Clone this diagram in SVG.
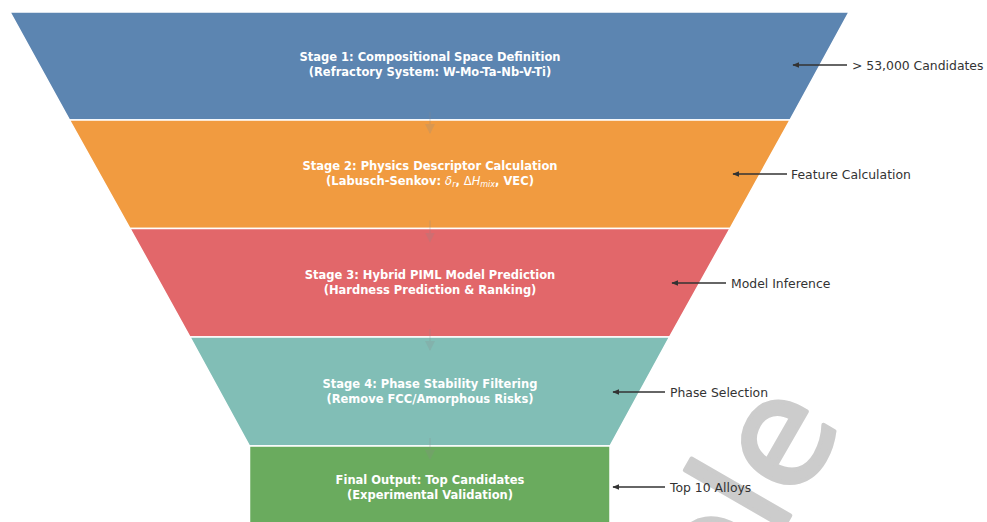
<svg xmlns="http://www.w3.org/2000/svg" width="987" height="522" viewBox="0 0 987 522">
  <defs>
    <marker id="head" viewBox="0 0 10 10" refX="9" refY="5" markerWidth="7" markerHeight="7" markerUnits="userSpaceOnUse" orient="auto-start-reverse">
      <path d="M0,1 L10,5 L0,9 z" fill="#333333"/>
    </marker>
    <marker id="faint" viewBox="0 0 10 10" refX="9" refY="5" markerWidth="10" markerHeight="10" markerUnits="userSpaceOnUse" orient="auto">
      <path d="M0,0 L10,5 L0,10 z" fill="#8a8a8a"/>
    </marker>
  </defs>
  <style>
    .stage { stroke: #ffffff; stroke-width: 1.5; }
    .title { font-family: "DejaVu Sans", "Liberation Sans", sans-serif; font-weight: bold; font-size: 11.5px; fill: #ffffff; text-anchor: middle; }
    .math { font-weight: normal; font-style: italic; }
    .side { font-family: "DejaVu Sans", "Liberation Sans", sans-serif; font-size: 12.4px; fill: #333333; }
    .callout { stroke: #333333; stroke-width: 1.4; fill: none; }
    .flow { stroke: #8a8a8a; stroke-width: 1.5; opacity: 0.22; }
    .mark { font-family: "DejaVu Sans", sans-serif; font-size: 150px; fill: #cccccc; stroke: #cccccc; stroke-width: 4; stroke-linejoin: round; }
  </style>
  <rect width="987" height="522" fill="#ffffff"/>

  <!-- watermark, behind everything else -->
  <text class="mark" transform="translate(729,622) rotate(-60)">ple</text>

  <!-- funnel stages -->
  <g id="stage1">
    <polygon class="stage" points="10,12 849,12 790,120 69.5,120" fill="#5c85b1"/>
    <text class="title" x="430" y="61">Stage 1: Compositional Space Definition</text>
    <text class="title" x="430" y="75.5">(Refractory System: W-Mo-Ta-Nb-V-Ti)</text>
  </g>
  <g id="stage2">
    <polygon class="stage" points="69.5,120 790,120 730,228.5 130,228.5" fill="#f19b40"/>
    <text class="title" x="430" y="170">Stage 2: Physics Descriptor Calculation</text>
    <text class="title" x="430" y="184.5">(Labusch-Senkov: <tspan class="math">δ</tspan><tspan class="math" font-size="8px" dy="2">r</tspan><tspan dy="-2">, </tspan><tspan font-weight="normal">Δ</tspan><tspan class="math">H</tspan><tspan class="math" font-size="8px" dy="2">mix</tspan><tspan dy="-2">, VEC)</tspan></text>
  </g>
  <g id="stage3">
    <polygon class="stage" points="130,228.5 730,228.5 669.5,337 190,337" fill="#e2676a"/>
    <text class="title" x="430" y="279">Stage 3: Hybrid PIML Model Prediction</text>
    <text class="title" x="430" y="293.5">(Hardness Prediction &amp; Ranking)</text>
  </g>
  <g id="stage4">
    <polygon class="stage" points="190,337 669.5,337 610,446 249.5,446" fill="#81beb6"/>
    <text class="title" x="430" y="388">Stage 4: Phase Stability Filtering</text>
    <text class="title" x="430" y="402.5">(Remove FCC/Amorphous Risks)</text>
  </g>
  <g id="final">
    <rect class="stage" x="249.5" y="446" width="360.5" height="90" fill="#6aab5e"/>
    <text class="title" x="430" y="484">Final Output: Top Candidates</text>
    <text class="title" x="430" y="498.5">(Experimental Validation)</text>
  </g>

  <!-- side labels -->
  <g id="labels">
    <text class="side" x="852" y="69.5">&gt; 53,000 Candidates</text>
    <text class="side" x="791" y="178.5">Feature Calculation</text>
    <text class="side" x="731" y="287.5">Model Inference</text>
    <text class="side" x="670" y="396.5">Phase Selection</text>
    <text class="side" x="670" y="491.5">Top 10 Alloys</text>
  </g>

  <!-- connectors -->
  <g id="connectors">
    <line class="flow" x1="430" y1="112" x2="430" y2="133" marker-end="url(#faint)"/>
    <line class="flow" x1="430" y1="220.5" x2="430" y2="241.5" marker-end="url(#faint)"/>
    <line class="flow" x1="430" y1="329" x2="430" y2="350" marker-end="url(#faint)"/>
    <line class="flow" x1="430" y1="438" x2="430" y2="459" marker-end="url(#faint)"/>
    <line class="callout" x1="847" y1="65" x2="793" y2="65" marker-end="url(#head)"/>
    <line class="callout" x1="787" y1="174" x2="733" y2="174" marker-end="url(#head)"/>
    <line class="callout" x1="726" y1="283" x2="672" y2="283" marker-end="url(#head)"/>
    <line class="callout" x1="665" y1="392" x2="613" y2="392" marker-end="url(#head)"/>
    <line class="callout" x1="665" y1="487" x2="613" y2="487" marker-end="url(#head)"/>
  </g>
</svg>
